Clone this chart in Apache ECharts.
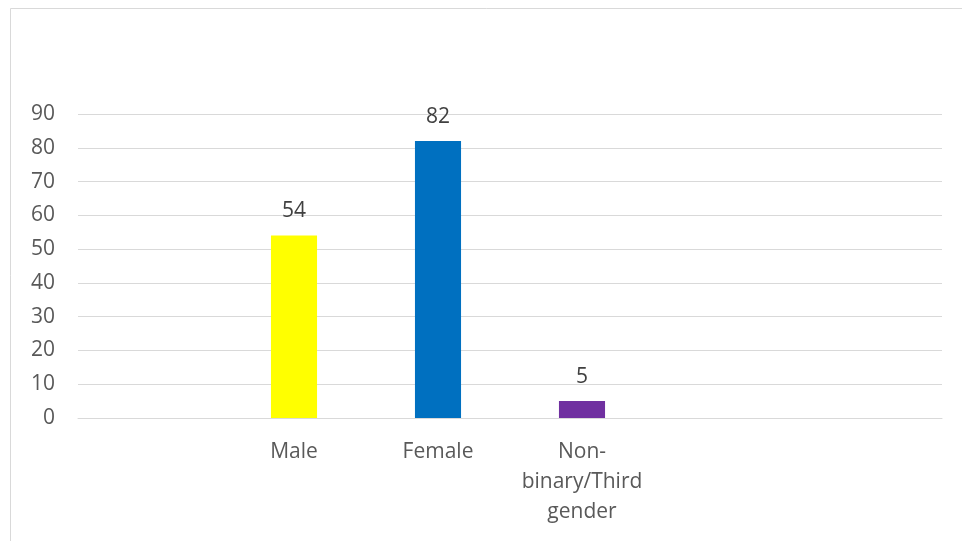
<!DOCTYPE html>
<html>
<head>
<meta charset="utf-8">
<style>
  html, body { margin: 0; padding: 0; background: #ffffff; }
  #chart { width: 962px; height: 541px; }
</style>
<script src="https://cdn.jsdelivr.net/npm/echarts@6/dist/echarts.min.js"></script>
</head>
<body>
<div id="chart"></div>
<script>
// Respondents by gender (blank slots keep the category spacing of the original sheet)
const categories = ['', 'Male', 'Female', 'Non-binary/Third gender', '', ''];
const counts = [null, 54, 82, 5, null, null];
const barColors = ['#FFFF00', '#FFFF00', '#0070C0', '#7030A0', '#7030A0', '#7030A0'];
const yTicks = { min: 0, max: 90, interval: 10 };

const chart = echarts.init(document.getElementById('chart'), null, { renderer: 'canvas' });

const font = '"Open Sans", "Noto Sans", sans-serif';

chart.setOption({
  animation: false,
  backgroundColor: '#ffffff',
  graphic: [{
    type: 'rect',
    shape: { x: 10.5, y: 8.5, width: 1000, height: 600 },
    style: { fill: 'none', stroke: '#d9d9d9', lineWidth: 1 },
    silent: true
  }],
  grid: { left: 78, right: 20, top: 114, bottom: 123, containLabel: false },
  xAxis: {
    type: 'category',
    data: categories,
    axisLine: { show: true, lineStyle: { color: '#d9d9d9', width: 1 } },
    axisTick: { show: false },
    axisLabel: {
      interval: 0,
      margin: 19,
      color: '#595959',
      fontFamily: font,
      fontSize: 21,
      lineHeight: 30,
      formatter: v => v === 'Non-binary/Third gender' ? 'Non-\nbinary/Third\ngender' : v
    }
  },
  yAxis: {
    type: 'value',
    min: yTicks.min,
    max: yTicks.max,
    interval: yTicks.interval,
    axisLine: { show: false },
    axisTick: { show: false },
    splitLine: { lineStyle: { color: '#d9d9d9', width: 1 } },
    axisLabel: { color: '#595959', fontFamily: font, fontSize: 21, margin: 23 }
  },
  series: [{
    type: 'bar',
    barWidth: '32%',
    data: counts.map((v, i) => ({ value: v, itemStyle: { color: barColors[i] } })),
    label: {
      show: true,
      position: 'top',
      distance: 14,
      color: '#404040',
      fontFamily: font,
      fontSize: 21,
      formatter: p => (p.value == null ? '' : String(p.value))
    }
  }]
});
</script>
</body>
</html>
